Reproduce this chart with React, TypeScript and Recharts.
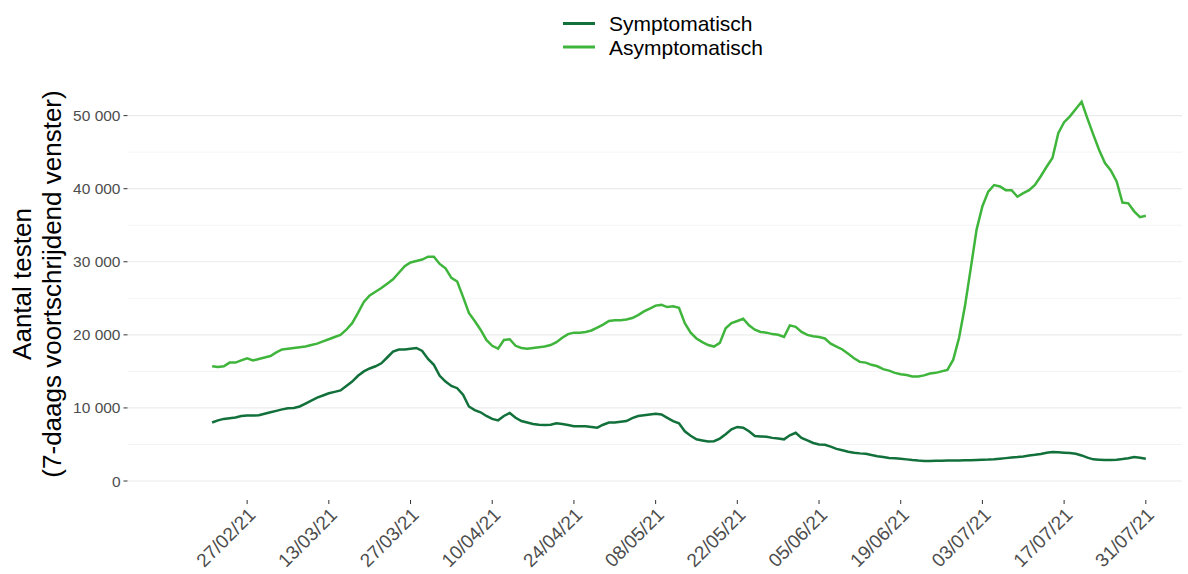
import { LineChart, Line, XAxis, YAxis, CartesianGrid } from "recharts";

const FONT = "'Liberation Sans', Arial, sans-serif";
const SYM_COLOR = "#12703b";
const ASYM_COLOR = "#3fb53c";

// daily values from 21/02/21 up to 31/07/21 (7-day rolling window)
const FIRST_DATE = Date.UTC(2021, 1, 21);

const SYMPTOMATIC = [
  8000, 8300, 8500, 8600, 8700, 8900, 8950, 8950, 9000, 9200, 9400, 9600, 9800, 9950, 10000, 10200,
  10600, 11000, 11400, 11700, 12000, 12200, 12400, 13000, 13600, 14400, 15000, 15400, 15700, 16100,
  16900, 17700, 18000, 18000, 18100, 18200, 17800, 16700, 15900, 14400, 13600, 13000, 12700, 11800,
  10200, 9700, 9400, 8900, 8500, 8300, 8900, 9300, 8650, 8200, 8000, 7800, 7700, 7650, 7700, 7900,
  7800, 7650, 7500, 7500, 7500, 7400, 7300, 7700, 8000, 8000, 8100, 8200, 8600, 8900, 9000, 9100,
  9200, 9100, 8650, 8200, 7900, 6800, 6200, 5700, 5550, 5400, 5450, 5800, 6400, 7060, 7400, 7300,
  6800, 6150, 6100, 6060, 5900, 5800, 5700, 6250, 6600, 5900, 5550, 5200, 5000, 4960, 4700, 4400,
  4200, 4000, 3870, 3780, 3730, 3550, 3400, 3280, 3140, 3100, 3050, 2960, 2870, 2800, 2750, 2750,
  2770, 2780, 2800, 2800, 2820, 2830, 2850, 2870, 2900, 2930, 2980, 3050, 3130, 3200, 3270, 3360,
  3480, 3580, 3700, 3870, 3960, 3940, 3880, 3820, 3720, 3500, 3200, 2960, 2920, 2880, 2880, 2920,
  3000, 3120, 3280, 3180, 3050,
];

const ASYMPTOMATIC = [
  15700, 15600, 15700, 16200, 16200, 16500, 16800, 16500, 16700, 16900, 17100, 17600, 18000, 18100,
  18200, 18300, 18400, 18600, 18800, 19100, 19400, 19700, 20000, 20700, 21600, 23000, 24500, 25400,
  25900, 26400, 27000, 27600, 28500, 29400, 29900, 30100, 30300, 30700, 30700, 29700, 29100, 27800,
  27300, 25200, 23000, 21900, 20700, 19300, 18500, 18100, 19300, 19400, 18500, 18200, 18100, 18200,
  18300, 18400, 18600, 19000, 19600, 20100, 20300, 20300, 20400, 20600, 21000, 21400, 21900, 22000,
  22000, 22100, 22300, 22700, 23200, 23600, 24000, 24100, 23800, 23900, 23700, 21600, 20300, 19500,
  19000, 18600, 18400, 18900, 20900, 21600, 21900, 22200, 21300, 20700, 20400, 20300, 20100, 20000,
  19700, 21300, 21100, 20400, 20000, 19800, 19700, 19500, 18800, 18400, 18000, 17400, 16800, 16300,
  16200, 15900, 15700, 15300, 15100, 14800, 14600, 14500, 14300, 14300, 14450, 14700, 14800, 15000,
  15200, 16600, 19600, 23900, 29100, 34400, 37600, 39600, 40500, 40300, 39800, 39800, 38900, 39400,
  39800, 40500, 41700, 43000, 44200, 47600, 49100, 49900, 50900, 51900, 49600, 47400, 45300, 43500,
  42500, 41000, 38100, 38000, 36900, 36100, 36300,
];

const TICK_LABELS = [
  "27/02/21", "13/03/21", "27/03/21", "10/04/21", "24/04/21", "08/05/21",
  "22/05/21", "05/06/21", "19/06/21", "03/07/21", "17/07/21", "31/07/21",
];
const Y_MAJOR = [0, 10000, 20000, 30000, 40000, 50000];
const Y_MINOR = [5000, 15000, 25000, 35000, 45000];

const pad = (n: number) => String(n).padStart(2, "0");
const DATES = SYMPTOMATIC.map((_, i) => {
  const d = new Date(FIRST_DATE + i * 86400000);
  return `${pad(d.getUTCDate())}/${pad(d.getUTCMonth() + 1)}/${String(d.getUTCFullYear()).slice(2)}`;
});
const rows = DATES.map((date, i) => ({ i, date, sym: SYMPTOMATIC[i], asym: ASYMPTOMATIC[i] }));
const tickIdx = TICK_LABELS.map((l) => DATES.indexOf(l));

const fmt = (v: number) => String(v).replace(/\B(?=(\d{3})+(?!\d))/g, " ");

function XTick(props: any) {
  const { x, y, payload } = props;
  const ax = x + 9.5;
  const ay = y + 10;
  return (
    <text
      x={ax}
      y={ay}
      transform={`rotate(-45, ${ax}, ${ay})`}
      textAnchor="end"
      fontSize={19}
      fill="#4d4d4d"
      fontFamily={FONT}
    >
      {DATES[payload.value]}
    </text>
  );
}

const LEGEND = [
  { name: "Symptomatisch", color: SYM_COLOR, y: 23.5 },
  { name: "Asymptomatisch", color: ASYM_COLOR, y: 47 },
];

export default function App() {
  return (
    <div style={{ position: "relative", width: 1188, height: 574, background: "#fff" }}>
      <style>{"body{margin:0}"}</style>
      <LineChart
        width={1188}
        height={574}
        data={rows}
        margin={{ top: 82, right: 6, bottom: 4, left: 67.5 }}
      >
        <CartesianGrid vertical={false} horizontalValues={Y_MINOR} stroke="#ebebeb" strokeWidth={0.6} />
        <CartesianGrid vertical={false} horizontalValues={Y_MAJOR} stroke="#ebebeb" strokeWidth={1.2} />
        <XAxis
          dataKey="i"
          type="number"
          domain={[-14.5, 166.2]}
          ticks={tickIdx}
          interval={0}
          height={70}
          tickSize={4}
          axisLine={false}
          tickLine={{ stroke: "#333333" }}
          tick={<XTick />}
        />
        <YAxis
          type="number"
          domain={[-2600, 54600]}
          ticks={Y_MAJOR}
          interval={0}
          width={60}
          tickSize={4}
          tickMargin={3}
          axisLine={false}
          tickLine={{ stroke: "#333333" }}
          tickFormatter={fmt}
          tick={{ fontSize: 15.5, fill: "#4d4d4d", fontFamily: FONT }}
        />
        <Line type="linear" dataKey="sym" stroke={SYM_COLOR} strokeWidth={2.5} dot={false} isAnimationActive={false} />
        <Line type="linear" dataKey="asym" stroke={ASYM_COLOR} strokeWidth={2.5} dot={false} isAnimationActive={false} />
      </LineChart>
      <svg
        width={1188}
        height={574}
        style={{ position: "absolute", left: 0, top: 0, pointerEvents: "none" }}
      >
        {LEGEND.map((l) => (
          <g key={l.name}>
            <line x1={563} x2={595} y1={l.y} y2={l.y} stroke={l.color} strokeWidth={3} />
            <text x={609} y={l.y + 7.5} fontSize={21} fontFamily={FONT} fill="#000">
              {l.name}
            </text>
          </g>
        ))}
        <g fontFamily={FONT} fontSize={26} fill="#000" textAnchor="middle">
          <text x={31} y={284} transform="rotate(-90, 31, 284)">Aantal testen</text>
          <text x={61} y={284} transform="rotate(-90, 61, 284)">(7-daags voortschrijdend venster)</text>
        </g>
      </svg>
    </div>
  );
}
